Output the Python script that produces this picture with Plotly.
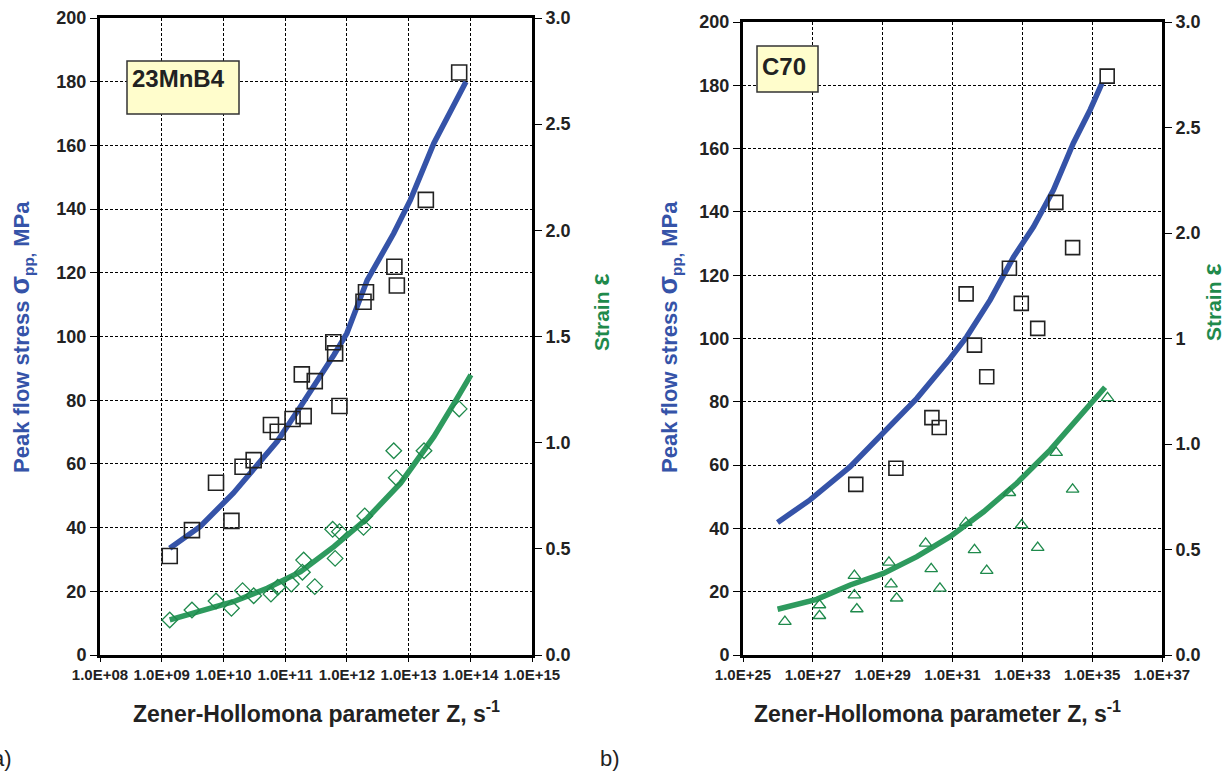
import plotly.graph_objects as go

W, H = 1228, 773

# ---------------- Panel a) 23MnB4 ----------------
a_sq_logz = [9.13, 9.49, 9.88, 10.13, 10.31, 10.49, 10.77, 10.88, 11.12, 11.30, 11.27, 11.48,
             11.88, 11.78, 11.81, 12.27, 12.31, 12.77, 12.81, 13.28, 13.82]
a_sq_stress = [31.1, 39.2, 54.1, 42.1, 59.1, 61.2, 72.2, 70.1, 74.1, 75.0, 88.1, 86.0,
               78.2, 98.2, 94.7, 110.9, 113.9, 121.9, 116.0, 142.9, 182.9]
a_fit_logz = [9.13, 9.62, 10.16, 10.49, 10.87, 11.25, 11.46, 11.79, 12.0, 12.33, 12.76,
              13.03, 13.41, 13.68, 13.93]
a_fit_stress = [33.5, 40.3, 50.8, 58.1, 67.0, 78.0, 84.2, 94.2, 101.0, 117.7, 132.4,
                142.9, 160.7, 171.1, 180.0]
a_dia_logz = [9.13, 9.49, 9.88, 10.13, 10.31, 10.49, 10.77, 10.88, 11.10, 11.28, 11.30, 11.48,
              11.77, 11.88, 11.81, 12.29, 12.27, 12.76, 12.80, 13.25, 13.82]
a_dia_strain = [0.165, 0.212, 0.254, 0.220, 0.303, 0.279, 0.287, 0.319, 0.334, 0.390, 0.447, 0.322,
                0.592, 0.581, 0.455, 0.655, 0.601, 0.962, 0.835, 0.962, 1.159]
a_gfit_logz = [9.13, 9.62, 10.16, 10.71, 11.25, 11.79, 12.33, 12.87, 13.41, 13.74, 14.01]
a_gfit_strain = [0.165, 0.207, 0.251, 0.314, 0.392, 0.510, 0.644, 0.809, 1.028, 1.186, 1.319]

# ---------------- Panel b) C70 ----------------
b_sq_logz = [28.23, 29.38, 30.41, 30.62, 31.39, 31.63, 31.98, 32.63, 32.97, 33.44, 33.96, 34.44, 35.43]
b_sq_stress = [53.9, 59.0, 75.0, 71.9, 114.1, 97.9, 87.9, 122.2, 111.1, 103.2, 143.0, 128.7, 182.9]
b_fit_logz = [25.99, 26.92, 28.07, 29.02, 29.98, 30.93, 31.41, 32.08, 32.75, 33.32, 33.89,
              34.46, 34.94, 35.28]
b_fit_stress = [41.9, 49.0, 59.5, 70.0, 81.1, 93.7, 100.6, 112.2, 125.8, 135.3, 146.9,
                161.7, 172.2, 180.6]
b_tri_logz = [26.20, 27.19, 27.19, 28.19, 28.19, 28.26, 29.18, 29.24, 29.40, 30.23, 30.39, 30.64,
              31.38, 31.63, 31.98, 32.63, 32.98, 33.44, 33.97, 34.44, 35.44]
b_tri_strain = [0.158, 0.237, 0.186, 0.376, 0.284, 0.218, 0.439, 0.336, 0.269, 0.529, 0.408, 0.316,
                0.627, 0.498, 0.400, 0.769, 0.616, 0.509, 0.959, 0.785, 1.219]
b_gfit_logz = [25.99, 26.54, 27.11, 28.07, 29.02, 29.98, 30.93, 31.89, 32.84, 33.80, 34.75, 35.37]
b_gfit_strain = [0.217, 0.242, 0.264, 0.332, 0.387, 0.466, 0.561, 0.679, 0.814, 0.972, 1.146, 1.269]

# ticks
a_xtick_exp = [8, 9, 10, 11, 12, 13, 14, 15]
b_xtick_exp = [25, 27, 29, 31, 33, 35, 37]
stress_ticks = [0, 20, 40, 60, 80, 100, 120, 140, 160, 180, 200]
strain_ticks = [0.0, 0.5, 1.0, 1.5, 2.0, 2.5, 3.0]
a_strain_labels = ["0.0", "0.5", "1.0", "1.5", "2.0", "2.5", "3.0"]
b_strain_labels = ["0.0", "0.5", "1.0", "1", "2.0", "2.5", "3.0"]

BLUE = "#3553A8"
GREEN_LINE = "#2E9A5E"
GREEN_MK = "#1F8A4C"
FONT = "Liberation Sans"


def px(x):
    return x / W


def py(y):
    return 1 - y / H


def tenpow(lst):
    return [10.0 ** v for v in lst]


fig = go.Figure()

# panel a
fig.add_trace(go.Scatter(x=tenpow(a_fit_logz), y=a_fit_stress, mode="lines",
                         line=dict(color=BLUE, width=5.5), xaxis="x", yaxis="y", showlegend=False))
fig.add_trace(go.Scatter(x=tenpow(a_sq_logz), y=a_sq_stress, mode="markers",
                         marker=dict(symbol="square-open", size=15, color="#222222", line=dict(width=1.6)),
                         xaxis="x", yaxis="y", showlegend=False))
fig.add_trace(go.Scatter(x=tenpow(a_gfit_logz), y=a_gfit_strain, mode="lines",
                         line=dict(color=GREEN_LINE, width=5.5), xaxis="x", yaxis="y2", showlegend=False))
fig.add_trace(go.Scatter(x=tenpow(a_dia_logz), y=a_dia_strain, mode="markers",
                         marker=dict(symbol="diamond-open", size=12, color=GREEN_MK, line=dict(width=1.3)),
                         xaxis="x", yaxis="y2", showlegend=False))

# panel b
fig.add_trace(go.Scatter(x=tenpow(b_fit_logz), y=b_fit_stress, mode="lines",
                         line=dict(color=BLUE, width=5.5), xaxis="x2", yaxis="y3", showlegend=False))
fig.add_trace(go.Scatter(x=tenpow(b_sq_logz), y=b_sq_stress, mode="markers",
                         marker=dict(symbol="square-open", size=14, color="#222222", line=dict(width=1.6)),
                         xaxis="x2", yaxis="y3", showlegend=False))
fig.add_trace(go.Scatter(x=tenpow(b_gfit_logz), y=b_gfit_strain, mode="lines",
                         line=dict(color=GREEN_LINE, width=5.5), xaxis="x2", yaxis="y4", showlegend=False))
fig.add_trace(go.Scatter(x=tenpow(b_tri_logz), y=b_tri_strain, mode="markers",
                         marker=dict(symbol="triangle-up-open", size=11, color=GREEN_MK, line=dict(width=1.3)),
                         xaxis="x2", yaxis="y4", showlegend=False))

tickfont = dict(family=FONT, size=15, color="#222222", weight="bold")
yfont = dict(family=FONT, size=18, color="#222222", weight="bold")

common_x = dict(type="log", showgrid=True, gridcolor="black", griddash="3px,2px", gridwidth=1,
                showline=True, linecolor="black", linewidth=3, mirror=True, automargin=False,
                ticks="outside", ticklen=4, tickcolor="black", tickfont=tickfont, zeroline=False)
common_y = dict(showgrid=True, gridcolor="black", griddash="3px,2px", gridwidth=1,
                showline=True, linecolor="black", linewidth=3, automargin=False,
                ticks="outside", ticklen=7, tickcolor="black", tickfont=yfont, zeroline=False,
                range=[0, 200], tickvals=stress_ticks)
common_y2 = dict(showgrid=False, showline=True, linecolor="black", linewidth=3, side="right",
                 automargin=False,
                 ticks="outside", ticklen=7, tickcolor="black", tickfont=yfont, zeroline=False,
                 range=[0, 3], tickvals=strain_ticks)

a_dom_x = [px(100), px(532)]
b_dom_x = [px(743), px(1162)]
a_dom_y = [py(655), py(18)]
b_dom_y = [py(655), py(22)]

fig.update_layout(
    width=W, height=H, margin=dict(l=0, r=0, t=0, b=0, autoexpand=False),
    paper_bgcolor="white", plot_bgcolor="white",
    xaxis=dict(common_x, domain=a_dom_x, anchor="y", range=[8, 15],
               tickvals=tenpow(a_xtick_exp), ticktext=["1.0E+%02d" % e for e in a_xtick_exp]),
    yaxis=dict(common_y, domain=a_dom_y, anchor="x"),
    yaxis2=dict(common_y2, overlaying="y", anchor="x", ticktext=a_strain_labels),
    xaxis2=dict(common_x, domain=b_dom_x, anchor="y3", range=[25, 37],
                tickvals=tenpow(b_xtick_exp), ticktext=["1.0E+%02d" % e for e in b_xtick_exp]),
    yaxis3=dict(common_y, domain=b_dom_y, anchor="x2"),
    yaxis4=dict(common_y2, overlaying="y3", anchor="x2", ticktext=b_strain_labels),
)

# sample-label boxes
fig.add_shape(type="rect", xref="paper", yref="paper", x0=px(127), x1=px(239), y0=py(114), y1=py(61),
              fillcolor="#FFFDCC", line=dict(color="#333333", width=1.5), layer="above")
fig.add_shape(type="rect", xref="paper", yref="paper", x0=px(757), x1=px(818), y0=py(92), y1=py(46),
              fillcolor="#FFFDCC", line=dict(color="#333333", width=1.5), layer="above")

ann = []
ann.append(dict(text="23MnB4", x=px(130), y=py(78), xanchor="left", yanchor="middle",
                font=dict(family=FONT, size=24, color="#222222", weight="bold")))
ann.append(dict(text="C70", x=px(760), y=py(66), xanchor="left", yanchor="middle",
                font=dict(family=FONT, size=24, color="#222222", weight="bold")))

ytitle = "Peak flow stress <span style='font-size:27px'>σ</span><sub>pp,</sub> MPa"
for xc in (21, 669):
    ann.append(dict(text=ytitle, x=px(xc), y=py(337), textangle=-90, xanchor="center", yanchor="middle",
                    font=dict(family=FONT, size=22, color=BLUE, weight="bold")))
for xc, yc in ((600, 312), (1212, 302)):
    ann.append(dict(text="Strain <span style='font-size:26px'>ε</span>", x=px(xc), y=py(yc),
                    textangle=-90, xanchor="center", yanchor="middle",
                    font=dict(family=FONT, size=21, color=GREEN_MK, weight="bold")))
xtitle = "Zener-Hollomona parameter Z, s<sup>-1</sup>"
for xc in (316, 937):
    ann.append(dict(text=xtitle, x=px(xc), y=py(712), xanchor="center", yanchor="middle",
                    font=dict(family=FONT, size=23, color="#222222", weight="bold")))
ann.append(dict(text="a)", x=px(-10), y=py(758), xanchor="left", yanchor="middle",
                font=dict(family=FONT, size=22, color="#222222")))
ann.append(dict(text="b)", x=px(598), y=py(758), xanchor="left", yanchor="middle",
                font=dict(family=FONT, size=22, color="#222222")))

for a in ann:
    a.update(xref="paper", yref="paper", showarrow=False)
fig.update_layout(annotations=ann)

fig.write_html("out.html")
